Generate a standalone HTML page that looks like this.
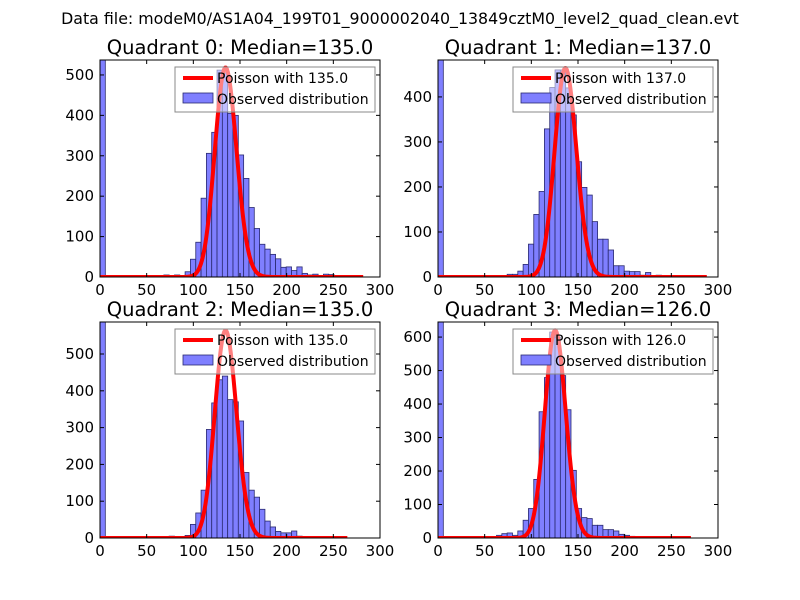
<!DOCTYPE html>
<html><head><meta charset="utf-8"><style>
html,body{margin:0;padding:0;background:#fff;}
svg{display:block;font-family:"DejaVu Sans","Liberation Sans",sans-serif;}
</style></head><body>
<svg id="fig" width="800" height="600" viewBox="0 0 800 600">
<rect width="800" height="600" fill="#fff"/>
<text x="400" y="24" font-size="15.8" text-anchor="middle">Data file: modeM0/AS1A04_199T01_9000002040_13849cztM0_level2_quad_clean.evt</text>
</svg>
<script>
// ---- chart data ----
const quadrantNames = ["Quadrant 0","Quadrant 1","Quadrant 2","Quadrant 3"];
const medians = [135.0, 137.0, 135.0, 126.0];
const binWidth = 5.7;
const yMax = [537, 482, 587, 645];
const yTickStep = [100, 100, 100, 100];
const curvePeak = [518, 464, 564, 620];
const curveEnd = [282, 288, 265, 271];
const xTicks = [0, 50, 100, 150, 200, 250, 300];
const q0Counts = [537,0,0,0,0,0,0,0,0,0,0,0,5,0,5,0,13,44,86,195,306,358,512,505,405,400,302,244,172,120,81,69,56,45,24,25,16,25,9,5,7,3,7,6,2];
const q1Counts = [482,0,0,0,0,0,0,0,0,0,0,0,0,6,6,13,28,73,139,190,329,421,460,460,420,360,256,199,182,123,84,84,60,25,25,13,12,12,4,10,3,4];
const q2Counts = [587,0,0,0,0,0,0,0,0,0,0,0,0,5,0,3,7,37,68,130,295,367,430,440,376,370,318,178,130,111,78,46,30,18,14,14,19,5,4,3,3];
const q3Counts = [645,0,0,0,0,0,0,0,0,0,0,8,13,15,8,21,53,88,175,377,479,615,600,485,383,202,88,61,58,38,38,25,25,21,11,8,5,3,0,3,4];
const allCounts = [q0Counts, q1Counts, q2Counts, q3Counts];

const panels = [
  {x0:100,x1:380,y0:60,y1:277},
  {x0:438,x1:718,y0:60,y1:277},
  {x0:100,x1:380,y0:322,y1:538},
  {x0:438,x1:718,y0:322,y1:538}
];
const NS = "http://www.w3.org/2000/svg";
const fig = document.getElementById("fig");
function mk(tag, attrs, parent){
  const e = document.createElementNS(NS, tag);
  for (const k in attrs) e.setAttribute(k, attrs[k]);
  (parent||fig).appendChild(e);
  return e;
}
function lgamma(z){
  if (z < 7) { let s=0; while(z<7){ s -= Math.log(z); z+=1; } return s + lgamma(z); }
  return (z-0.5)*Math.log(z) - z + 0.5*Math.log(2*Math.PI) + 1/(12*z) - 1/(360*z*z*z);
}
function logPmf(k, lam){ return k*Math.log(lam) - lam - lgamma(k+1); }

panels.forEach((p, qi) => {
  const sx = v => p.x0 + (v/300)*(p.x1-p.x0);
  const sy = v => p.y1 - (v/yMax[qi])*(p.y1-p.y0);
  const g = mk("g", {});
  
  
  const clipId = "clip"+qi;
  const cp = mk("clipPath", {id:clipId}, g);
  mk("rect", {x:p.x0, y:p.y0, width:p.x1-p.x0, height:p.y1-p.y0}, cp);
  const plot = mk("g", {"clip-path":"url(#"+clipId+")"}, g);
  allCounts[qi].forEach((c, i) => {
    if (c <= 0) return;
    const xa = sx(i*binWidth), xb = sx((i+1)*binWidth);
    const r = mk("rect", {x:xa, y:sy(c), width:xb-xa, height:sy(0)-sy(c), fill:"#7f7fff", stroke:"#2a2a70", "stroke-width":"0.8"}, plot);
    
    
  });
  const lam = medians[qi];
  const mode = Math.floor(lam);
  const lm = logPmf(mode, lam);
  let d = "";
  for (let k = 0; k <= curveEnd[qi]; k++) {
    const v = curvePeak[qi]*Math.exp(logPmf(k, lam) - lm);
    d += (k===0?"M":"L") + sx(k).toFixed(2) + "," + sy(v).toFixed(2);
  }
  const line = mk("path", {d:d, fill:"none", stroke:"#ff0000", "stroke-width":"4", "stroke-linejoin":"round"}, plot);
  
  
  const fr = mk("rect", {x:p.x0, y:p.y0, width:p.x1-p.x0, height:p.y1-p.y0, fill:"none", stroke:"#000", "stroke-width":"1"}, g);
  
  
  xTicks.forEach(t => {
    const x = sx(t);
    mk("line", {x1:x, x2:x, y1:p.y1, y2:p.y1-4, stroke:"#000"}, g);
    mk("line", {x1:x, x2:x, y1:p.y0, y2:p.y0+4, stroke:"#000"}, g);
    const tl = mk("text", {x:x, y:p.y1+18, "font-size":"15", "text-anchor":"middle"}, g);
    tl.textContent = t;
    
    
  });
  for (let t = 0; t <= yMax[qi]; t += yTickStep[qi]) {
    const y = sy(t);
    mk("line", {x1:p.x0, x2:p.x0+4, y1:y, y2:y, stroke:"#000"}, g);
    mk("line", {x1:p.x1, x2:p.x1-4, y1:y, y2:y, stroke:"#000"}, g);
    const tl = mk("text", {x:p.x0-6, y:y+5, "font-size":"15", "text-anchor":"end"}, g);
    tl.textContent = t;
    
    
  }
  const tt = mk("text", {x:(p.x0+p.x1)/2, y:p.y0-6, "font-size":"19.5", "text-anchor":"middle"}, g);
  tt.textContent = quadrantNames[qi] + ": Median=" + medians[qi].toFixed(1);
  
  
  const lg = mk("g", {}, g);
  
  
  const lx = p.x0+75, ly = p.y0+7;
  mk("rect", {x:lx, y:ly, width:200, height:45, fill:"#fff", "fill-opacity":"0.5", stroke:"#888", "stroke-width":"1"}, lg);
  mk("line", {x1:lx+8, x2:lx+38, y1:ly+11, y2:ly+11, stroke:"#ff0000", "stroke-width":"4"}, lg);
  const t1 = mk("text", {x:lx+42, y:ly+16, "font-size":"14"}, lg);
  t1.textContent = "Poisson with " + medians[qi].toFixed(1);
  
  
  mk("rect", {x:lx+8, y:ly+26, width:30, height:10, fill:"#7f7fff", stroke:"#2a2a70", "stroke-width":"0.8"}, lg);
  const t2 = mk("text", {x:lx+42, y:ly+37, "font-size":"14"}, lg);
  t2.textContent = "Observed distribution";
  
  
});
</script>
</body></html>
